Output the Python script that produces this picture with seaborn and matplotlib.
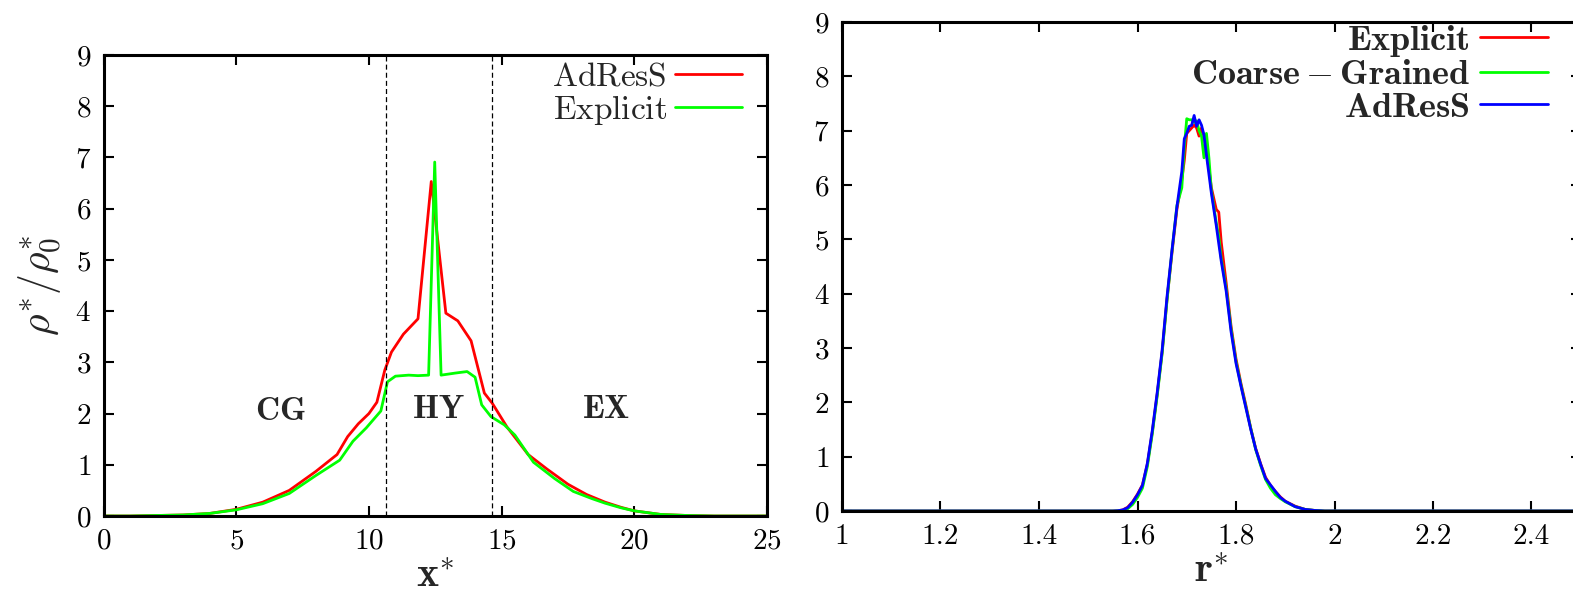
import numpy as np
import pandas as pd
import matplotlib
matplotlib.use("Agg")
import matplotlib.pyplot as plt
import seaborn as sns

# ---- density profile across the simulation box (left panel) ----
x_adress = [0, 1, 2, 3, 4, 5, 6, 7, 8, 8.8, 9.2, 9.6, 10.0, 10.3, 10.6, 10.85,
            11.3, 11.85, 12.35, 12.9, 13.35, 13.85, 14.35, 14.65, 15.2, 16.0,
            16.7, 17.5, 18.2, 18.9, 19.5, 20.0, 21.0, 22.0, 23, 24, 25]
rho_adress = [0, 0, 0.01, 0.02, 0.05, 0.13, 0.27, 0.5, 0.87, 1.2, 1.55, 1.8,
              2.0, 2.22, 2.85, 3.2, 3.55, 3.85, 6.53, 3.96, 3.81, 3.42, 2.40,
              2.2, 1.74, 1.2, 0.92, 0.62, 0.42, 0.27, 0.17, 0.10, 0.03, 0.01,
              0, 0, 0]

x_explicit = [0, 1, 2, 3, 4, 5, 6, 7, 8, 8.9, 9.4, 9.9, 10.45, 10.7, 11.0,
              11.5, 11.85, 12.25, 12.48, 12.72, 13.25, 13.7, 14.0, 14.25, 14.6,
              15.1, 15.5, 16.2, 17.0, 17.7, 18.4, 18.9, 19.5, 20.0, 21.0, 22.0,
              23, 24, 25]
rho_explicit = [0, 0, 0.01, 0.02, 0.05, 0.12, 0.24, 0.44, 0.79, 1.09, 1.46,
                1.72, 2.05, 2.62, 2.73, 2.75, 2.74, 2.75, 6.91, 2.75, 2.79,
                2.82, 2.71, 2.17, 1.94, 1.78, 1.58, 1.05, 0.73, 0.48, 0.34,
                0.25, 0.16, 0.10, 0.03, 0.01, 0, 0, 0]

hybrid_edges = [10.65, 14.65]
region_labels = ["CG", "HY", "EX"]
region_x = [6.66, 12.63, 18.92]
region_y = [2.04, 2.07, 2.07]

# ---- bond length distribution (right panel) ----
r = [1.00, 1.50, 1.55, 1.56, 1.57, 1.58, 1.59, 1.60, 1.61, 1.62, 1.63, 1.64,
     1.65, 1.66, 1.67, 1.68, 1.69, 1.695, 1.70, 1.705, 1.71, 1.715, 1.72,
     1.725, 1.73, 1.735, 1.74, 1.745, 1.75, 1.76, 1.765, 1.77, 1.78, 1.79,
     1.80, 1.81, 1.82, 1.83, 1.84, 1.85, 1.86, 1.87, 1.88, 1.89, 1.90, 1.92,
     1.94, 1.96, 1.98, 2.00, 2.50]
p_explicit = [0, 0, 0, 0.005, 0.02, 0.07, 0.17, 0.31, 0.48, 0.86, 1.45, 2.15,
              2.92, 3.9, 4.75, 5.55, 6.1, 6.45, 6.95, 7.0, 7.05, 7.1, 7.05,
              6.9, 7.05, 6.9, 6.6, 6.3, 5.95, 5.55, 5.5, 4.95, 4.2, 3.4, 2.8,
              2.35, 1.95, 1.52, 1.15, 0.87, 0.62, 0.47, 0.36, 0.26, 0.18, 0.09,
              0.03, 0.01, 0, 0, 0]
p_coarse = [0, 0, 0, 0.003, 0.01, 0.04, 0.12, 0.25, 0.42, 0.82, 1.42, 2.12,
            2.9, 3.88, 4.78, 5.62, 5.95, 6.7, 7.22, 7.2, 7.2, 7.15, 7.18, 7.0,
            6.9, 6.5, 6.95, 6.5, 5.9, 5.3, 5.05, 4.65, 4.1, 3.35, 2.75, 2.32,
            1.92, 1.52, 1.13, 0.84, 0.58, 0.42, 0.3, 0.23, 0.17, 0.08, 0.03,
            0.01, 0, 0, 0]
p_adress = [0, 0, 0, 0.005, 0.02, 0.06, 0.16, 0.30, 0.47, 0.88, 1.48, 2.18,
            2.96, 3.95, 4.8, 5.6, 6.25, 6.85, 6.95, 7.08, 7.1, 7.28, 7.08, 7.2,
            7.1, 6.92, 6.55, 6.2, 5.85, 5.25, 4.92, 4.6, 4.05, 3.3, 2.72, 2.3,
            1.9, 1.5, 1.14, 0.86, 0.6, 0.48, 0.36, 0.25, 0.18, 0.08, 0.03,
            0.01, 0, 0, 0]

sns.set_theme(style="ticks")
plt.rcParams.update({
    "font.family": "serif",
    "font.serif": ["cmr10"],
    "mathtext.fontset": "cm",
    "axes.formatter.use_mathtext": True,
    "axes.unicode_minus": False,
})

RED, GREEN, BLUE = "#ff0000", "#00ff00", "#0000ff"
W, H = 1573, 593
fig = plt.figure(figsize=(W / 100, H / 100), dpi=100)

def px_axes(x0, x1, ytop, ybot):
    return fig.add_axes([x0 / W, (H - ybot) / H, (x1 - x0) / W, (ybot - ytop) / H])

ax1 = px_axes(103.5, 767, 55, 516)
ax2 = px_axes(842, 1580.75, 22, 511)

def style_axes(ax):
    for s in ax.spines.values():
        s.set_linewidth(2.2)
        s.set_color("black")
        s.set_visible(True)
    ax.tick_params(direction="in", length=7, width=1.5, top=True, right=True,
                   labelsize=21, pad=9, colors="black")
    ax.set_facecolor("white")

# left panel
left_df = pd.concat([
    pd.DataFrame({"x": x_adress, "rho": rho_adress, "run": "AdResS"}),
    pd.DataFrame({"x": x_explicit, "rho": rho_explicit, "run": "Explicit"}),
])
sns.lineplot(data=left_df, x="x", y="rho", hue="run",
             palette={"AdResS": RED, "Explicit": GREEN},
             estimator=None, sort=False, linewidth=2.0, ax=ax1)
for xe in hybrid_edges:
    ax1.axvline(xe, color="black", linewidth=0.9, dashes=(4, 2.5))
for lab, tx, ty in zip(region_labels, region_x, region_y):
    ax1.text(tx, ty, r"$\mathbf{%s}$" % lab, fontsize=24, ha="center",
             va="center")
ax1.set_xlim(0, 25)
ax1.set_ylim(0, 9)
ax1.set_xticks([0, 5, 10, 15, 20, 25])
ax1.set_yticks(range(0, 10))
style_axes(ax1)
ax1.set_xlabel(r"$\mathbf{x}^{*}$", fontsize=30, labelpad=2)
ax1.set_ylabel(r"$\rho^{*}/\rho^{*}_{\mathbf{0}}$", fontsize=30,
               labelpad=8)
h, l = ax1.get_legend_handles_labels()
ax1.legend(h, [r"$\mathrm{AdResS}$", r"$\mathrm{Explicit}$"],
           loc="upper right", bbox_to_anchor=(0.962, 0.985), frameon=False,
           markerfirst=False, fontsize=24, handlelength=2.0,
           handletextpad=0.25, labelspacing=0.05, borderpad=0,
           borderaxespad=0)

# right panel
right_df = pd.concat([
    pd.DataFrame({"r": r, "p": p_explicit, "run": "Explicit"}),
    pd.DataFrame({"r": r, "p": p_coarse, "run": "Coarse-Grained"}),
    pd.DataFrame({"r": r, "p": p_adress, "run": "AdResS"}),
])
sns.lineplot(data=right_df, x="r", y="p", hue="run",
             palette={"Explicit": RED, "Coarse-Grained": GREEN, "AdResS": BLUE},
             estimator=None, sort=False, linewidth=2.0, ax=ax2)
ax2.set_xlim(1, 2.5)
ax2.set_ylim(0, 9)
ax2.set_xticks([1, 1.2, 1.4, 1.6, 1.8, 2.0, 2.2, 2.4])
ax2.set_xticklabels(["1", "1.2", "1.4", "1.6", "1.8", "2", "2.2", "2.4"])
ax2.set_yticks(range(0, 10))
style_axes(ax2)
ax2.set_xlabel(r"$\mathbf{r}^{*}$", fontsize=30, labelpad=2)
ax2.set_ylabel("")
h2, l2 = ax2.get_legend_handles_labels()
ax2.legend(h2, [r"$\mathbf{Explicit}$", r"$\mathbf{Coarse-Grained}$",
                r"$\mathbf{AdResS}$"],
           loc="upper right", bbox_to_anchor=(0.956, 0.998), frameon=False,
           markerfirst=False, fontsize=26, handlelength=1.9,
           handletextpad=0.28, labelspacing=0.0, borderpad=0,
           borderaxespad=0)

fig.savefig("out.png", dpi=100, facecolor="white")
